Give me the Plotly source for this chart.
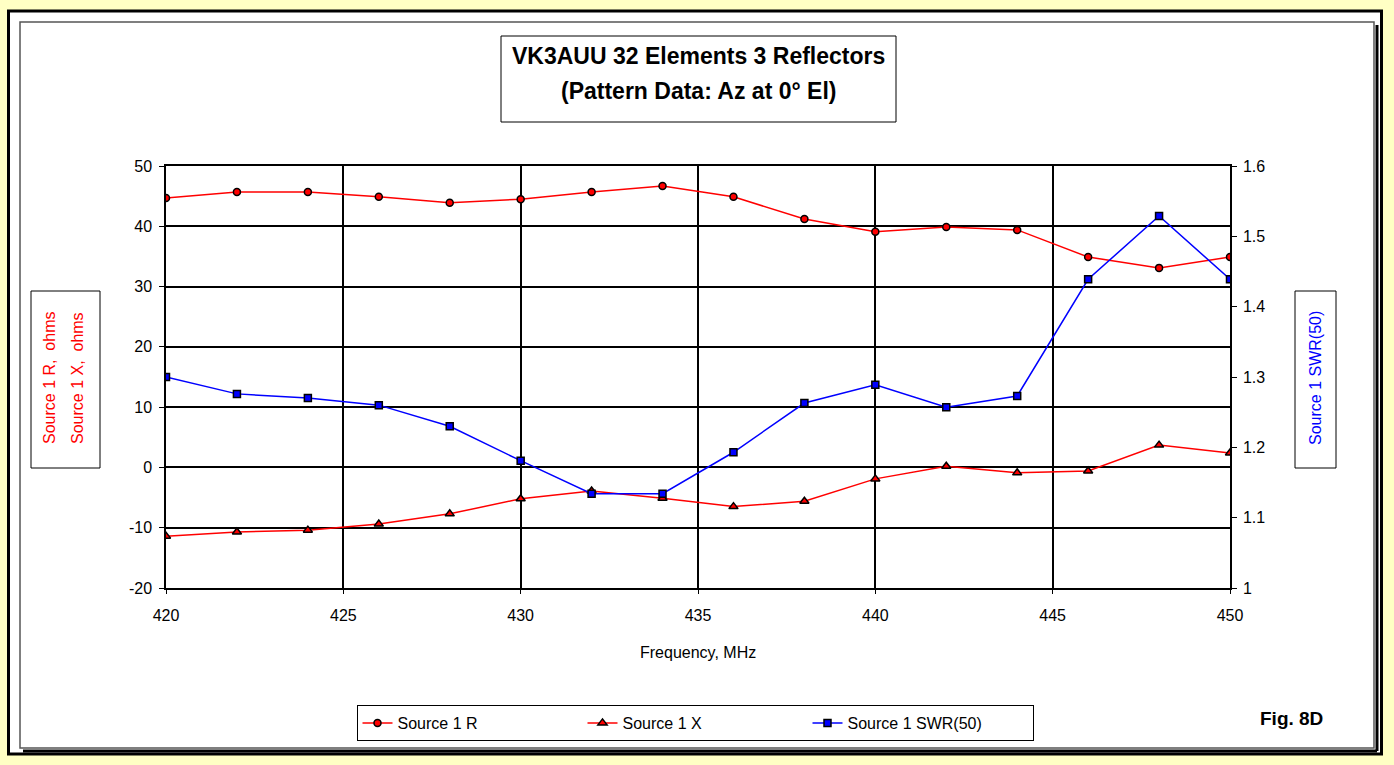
import plotly.graph_objects as go

# data
freq_mhz = [420, 422, 424, 426, 428, 430, 432, 434, 436, 438, 440, 442, 444, 446, 448, 450]
source_r = [44.7, 45.7, 45.7, 44.9, 43.9, 44.5, 45.7, 46.7, 44.9, 41.2, 39.1, 39.9, 39.4, 34.9, 33.1, 34.9]
source_x = [-11.4, -10.7, -10.4, -9.4, -7.7, -5.2, -3.9, -5.1, -6.5, -5.6, -1.9, 0.2, -0.9, -0.6, 3.7, 2.4]
source_swr = [1.300, 1.276, 1.270, 1.260, 1.230, 1.181, 1.134, 1.134, 1.193, 1.263, 1.289, 1.257, 1.273, 1.439, 1.529, 1.439]

left_ticks = [-20, -10, 0, 10, 20, 30, 40, 50]
left_ticktext = ["-20", "-10", "0", "10", "20", "30", "40", "50"]

W, H = 1394, 765
L, R, T, B = 166, 164, 166, 177
PW, PH = W - L - R, H - T - B


def px(x):
    return (x - L) / PW


def py(y):
    return (H - B - y) / PH


FONT = "Liberation Sans, Arial, sans-serif"

fig = go.Figure()

fig.add_trace(go.Scatter(x=freq_mhz, y=source_r, name="Source 1 R",
                         mode="lines+markers",
                         line=dict(color="#ff0000", width=1.5),
                         marker=dict(symbol="circle", size=7, color="#ff0000",
                                     line=dict(color="black", width=1.5))))
fig.add_trace(go.Scatter(x=freq_mhz, y=source_x, name="Source 1 X",
                         mode="lines+markers",
                         line=dict(color="#ff0000", width=1.5),
                         marker=dict(symbol="triangle-up", size=8, color="#ff0000",
                                     line=dict(color="black", width=1.5))))
fig.add_trace(go.Scatter(x=freq_mhz, y=source_swr, name="Source 1 SWR(50)",
                         mode="lines+markers", yaxis="y2",
                         line=dict(color="#0000ff", width=1.5),
                         marker=dict(symbol="square", size=7, color="#0000ff",
                                     line=dict(color="black", width=1.5))))

shapes = [
    # outer black frame
    dict(type="rect", xref="paper", yref="paper", layer="below",
         x0=px(8.5), x1=px(1381.5), y0=py(11), y1=py(754),
         line=dict(color="black", width=3), fillcolor="white"),
    # inner grey frame
    dict(type="rect", xref="paper", yref="paper", layer="below",
         x0=px(20), x1=px(1374), y0=py(22), y1=py(748),
         line=dict(color="#555555", width=1.5), fillcolor="white"),
    # frame shadow right and bottom
    dict(type="line", xref="paper", yref="paper", layer="below",
         x0=px(1377), x1=px(1377), y0=py(25), y1=py(751),
         line=dict(color="black", width=3)),
    dict(type="line", xref="paper", yref="paper", layer="below",
         x0=px(23), x1=px(1377), y0=py(751), y1=py(751),
         line=dict(color="black", width=3)),
    # title box
    dict(type="rect", xref="paper", yref="paper",
         x0=px(501), x1=px(896), y0=py(36), y1=py(122),
         line=dict(color="black", width=1)),
    # left axis title box
    dict(type="rect", xref="paper", yref="paper",
         x0=px(31), x1=px(100), y0=py(291), y1=py(468),
         line=dict(color="black", width=1)),
    # right axis title box
    dict(type="rect", xref="paper", yref="paper",
         x0=px(1295), x1=px(1336), y0=py(291), y1=py(468),
         line=dict(color="black", width=1)),
]


def note(text, x, y, size=15, color="black", angle=0, family=FONT):
    return dict(text=text, xref="paper", yref="paper", x=px(x), y=py(y),
                xanchor="center", yanchor="middle", showarrow=False,
                textangle=angle, font=dict(family=family, size=size, color=color))


annotations = [
    note("<b>VK3AUU 32 Elements 3 Reflectors</b>", 698, 56, size=23),
    note("<b>(Pattern Data: Az at 0° El)</b>", 698, 91, size=23),
    note("Source 1 R,  ohms", 49, 378, size=16, color="#ff0000", angle=-90),
    note("Source 1 X,  ohms", 77, 378, size=16, color="#ff0000", angle=-90),
    note("Source 1 SWR(50)", 1315, 378, size=16, color="#0000ff", angle=-90),
    note("Frequency, MHz", 698, 652, size=16),
    note("<b>Fig. 8D</b>", 1291, 718, size=19),
]

fig.update_layout(
    width=W, height=H,
    margin=dict(l=L, r=R, t=T, b=B),
    paper_bgcolor="#ffffc4",
    plot_bgcolor="white",
    font=dict(family=FONT, size=16, color="black"),
    shapes=shapes,
    annotations=annotations,
    showlegend=True,
    legend=dict(orientation="h", x=px(695), xanchor="center", y=py(723), yanchor="middle",
                bordercolor="black", borderwidth=1, bgcolor="white",
                font=dict(family=FONT, size=16, color="black"),
                entrywidth=180, entrywidthmode="pixels",
                itemclick=False, itemdoubleclick=False),
    xaxis=dict(range=[420, 450], dtick=5, tick0=420,
               showgrid=True, gridcolor="black", gridwidth=1.5,
               showline=True, linecolor="black", linewidth=1.5, mirror=True,
               ticks="outside", ticklen=4, tickcolor="black", ticklabelstandoff=8,
               zeroline=False, tickfont=dict(size=16)),
    yaxis=dict(range=[-20, 50], tickvals=left_ticks, ticktext=left_ticktext,
               showgrid=True, gridcolor="black", gridwidth=1.5,
               showline=True, linecolor="black", linewidth=1.5,
               ticks="outside", ticklen=5, tickcolor="black", ticklabelstandoff=4,
               zeroline=False, tickfont=dict(size=16)),
    yaxis2=dict(range=[1, 1.6], dtick=0.1, overlaying="y", side="right",
                showgrid=False, showline=True, linecolor="black", linewidth=1.5,
                ticks="outside", ticklen=5, tickcolor="black", ticklabelstandoff=3,
                zeroline=False, tickfont=dict(size=16)),
)

fig.write_html("out.html", config={"displayModeBar": False},
               post_script="document.body.style.margin='0';")
